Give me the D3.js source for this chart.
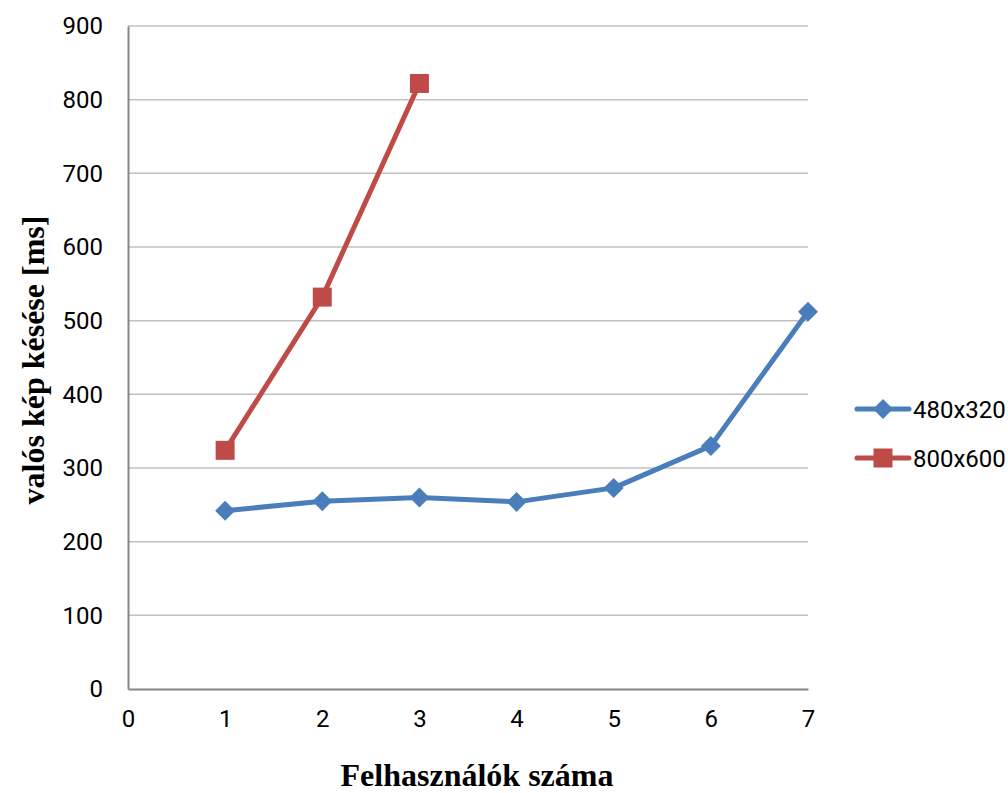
<!DOCTYPE html>
<html>
<head>
<meta charset="utf-8">
<script src="https://cdn.jsdelivr.net/npm/d3@7"></script>
<style>
  html, body { margin: 0; padding: 0; background: #fff; }
  svg { display: block; }
</style>
</head>
<body>
<svg id="chart" width="1008" height="793"></svg>
<script>
// Users on the x axis, latency per resolution
const users = [1, 2, 3, 4, 5, 6, 7];
const series480 = [242, 255, 260, 254, 273, 330, 512];
const series800 = [324, 532, 822];
const seriesNames = ["480x320", "800x600"];
const yTicks = [0, 100, 200, 300, 400, 500, 600, 700, 800, 900];
const xTicks = [0, 1, 2, 3, 4, 5, 6, 7];

const svg = d3.select("#chart");
const margin = { left: 128, right: 200, top: 26, bottom: 104 };
const W = 1008, H = 793;

const x = d3.scaleLinear().domain([0, 7]).range([margin.left, W - margin.right]);
const y = d3.scaleLinear().domain([0, 900]).range([H - margin.bottom, margin.top]);

const tickFont = "Roboto, 'Liberation Sans', sans-serif";
const titleFont = "'Liberation Serif', 'Times New Roman', serif";

// horizontal gridlines
svg.append("g")
  .selectAll("line")
  .data(yTicks.filter(d => d > 0))
  .join("line")
  .attr("x1", x(0)).attr("x2", x(7))
  .attr("y1", d => y(d)).attr("y2", d => y(d))
  .attr("stroke", "#c0c0c0").attr("stroke-width", 1.5);

// axes
const yAxis = svg.append("g")
  .attr("transform", `translate(${x(0)},0)`)
  .call(d3.axisLeft(y).tickValues(yTicks).tickFormat(d3.format("d")).tickSize(0).tickPadding(25));
const xAxis = svg.append("g")
  .attr("transform", `translate(0,${y(0)})`)
  .call(d3.axisBottom(x).tickValues(xTicks).tickFormat(d3.format("d")).tickSize(0).tickPadding(21));

[yAxis, xAxis].forEach(g => {
  g.select(".domain").attr("stroke", "#868686").attr("stroke-width", 2);
  g.selectAll("text")
    .attr("font-family", tickFont)
    .attr("font-size", 24)
    .attr("fill", "#000");
});

// axis titles
svg.append("text")
  .attr("x", 477).attr("y", 786)
  .attr("text-anchor", "middle")
  .attr("font-family", titleFont)
  .attr("font-weight", "bold").attr("font-size", 32)
  .text("Felhasználók száma");
svg.append("text")
  .attr("transform", `translate(44,360) rotate(-90)`)
  .attr("text-anchor", "middle")
  .attr("font-family", titleFont)
  .attr("font-weight", "bold").attr("font-size", 32)
  .text("valós kép késése [ms]");

const blue = "#4a7ebb", red = "#be4b48";
const line = d3.line().x(d => x(d[0])).y(d => y(d[1]));

const data480 = users.map((u, i) => [u, series480[i]]);
const data800 = series800.map((v, i) => [users[i], v]);

svg.append("path").datum(data480).attr("d", line)
  .attr("fill", "none").attr("stroke", blue).attr("stroke-width", 5)
  .attr("stroke-linejoin", "round").attr("stroke-linecap", "round");
svg.append("path").datum(data800).attr("d", line)
  .attr("fill", "none").attr("stroke", red).attr("stroke-width", 5)
  .attr("stroke-linejoin", "round").attr("stroke-linecap", "round");

const diamond = d3.symbol().type(d3.symbolSquare).size(200);
svg.append("g").selectAll("path").data(data480).join("path")
  .attr("d", diamond)
  .attr("transform", d => `translate(${x(d[0])},${y(d[1])}) rotate(45)`)
  .attr("fill", blue);

const square = d3.symbol().type(d3.symbolSquare).size(361);
svg.append("g").selectAll("path").data(data800).join("path")
  .attr("d", square)
  .attr("transform", d => `translate(${x(d[0])},${y(d[1])})`)
  .attr("fill", red);

// legend
const legend = svg.append("g");
const legendItems = [
  { name: seriesNames[0], color: blue, sym: diamond, rot: 45, y: 409 },
  { name: seriesNames[1], color: red, sym: square, rot: 0, y: 458 }
];
legendItems.forEach(it => {
  legend.append("line")
    .attr("x1", 857).attr("x2", 909).attr("y1", it.y).attr("y2", it.y)
    .attr("stroke", it.color).attr("stroke-width", 5).attr("stroke-linecap", "round");
  legend.append("path").attr("d", it.sym)
    .attr("transform", `translate(883,${it.y}) rotate(${it.rot})`)
    .attr("fill", it.color);
  legend.append("text")
    .attr("x", 913).attr("y", it.y + 9)
    .attr("font-family", tickFont)
    .attr("font-size", 24)
    .text(it.name);
});
</script>
</body>
</html>
